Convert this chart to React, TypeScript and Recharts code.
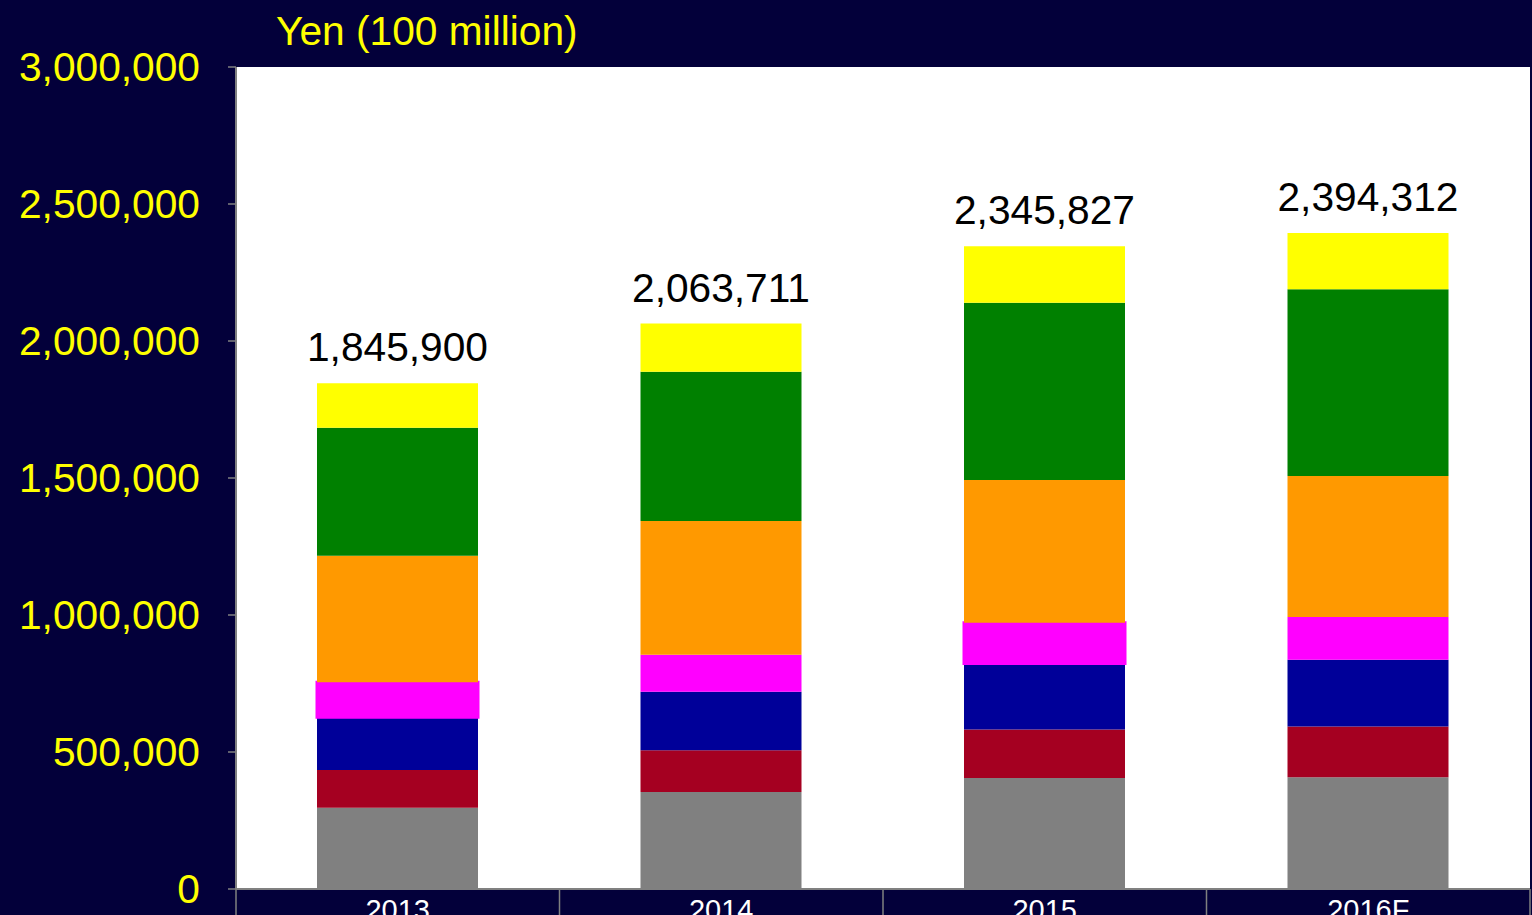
import React from 'react';
import { BarChart, Bar, XAxis, YAxis, CartesianGrid, LabelList, Cell } from 'recharts';

const categories = ['2013', '2014', '2015', '2016F'];
const totals = [1845900, 2063711, 2345827, 2394312];
const seriesGray = [296700, 354000, 405100, 407700];
const seriesRed = [137600, 152600, 176600, 185800];
const seriesBlue = [192300, 213100, 241200, 243400];
const seriesMagenta = [127700, 135000, 148900, 155800];
const seriesOrange = [462000, 488700, 520800, 514600];
const seriesGreen = [467200, 544200, 646700, 681800];
const seriesYellow = [162400, 176100, 206500, 205200];
const yTicks = [0, 500000, 1000000, 1500000, 2000000, 2500000, 3000000];
const unitLabel = 'Yen (100 million)';

const data = categories.map((c, i) => ({
  year: c,
  total: totals[i],
  gray: seriesGray[i],
  red: seriesRed[i],
  blue: seriesBlue[i],
  magenta: seriesMagenta[i],
  orange: seriesOrange[i],
  green: seriesGreen[i],
  yellow: seriesYellow[i],
}));

const W = 1532;
const H = 915;
const PLOT_LEFT = 236;
const PLOT_RIGHT = 1530;
const PLOT_BOTTOM = 889;
const BAND = (PLOT_RIGHT - PLOT_LEFT) / categories.length;
const FONT = '"Liberation Sans", Arial, sans-serif';
const BG = '#03003a';
const BIG = 40.7;

const fmt = (v: number) => Number(v).toLocaleString('en-US');

function XTick(props: any) {
  const { x, y, payload, index } = props;
  const left = x - BAND / 2;
  const isLast = index === categories.length - 1 || payload.value === categories[categories.length - 1];
  return (
    <g>
      <line x1={left} x2={left} y1={PLOT_BOTTOM} y2={H} stroke="#808080" strokeWidth={1.5} />
      {isLast && (
        <line x1={x + BAND / 2} x2={x + BAND / 2} y1={PLOT_BOTTOM} y2={H} stroke="#808080" strokeWidth={1.5} />
      )}
      <text x={x} y={y} dy="0.71em" textAnchor="middle" fill="#ffffff" fontSize={29} fontFamily={FONT}>
        {payload.value}
      </text>
    </g>
  );
}

const magentaWide = [true, false, true, false];

export default function App() {
  return (
    <div style={{ position: 'absolute', left: 0, top: 0, width: W, height: H, background: BG, overflow: 'hidden' }}>
      <div
        style={{
          position: 'absolute',
          left: 276,
          top: 11,
          fontSize: BIG,
          lineHeight: '40px',
          color: '#ffff00',
          fontFamily: FONT,
          whiteSpace: 'nowrap',
          zIndex: 2,
        }}
      >
        {unitLabel}
      </div>
      <BarChart
        width={W}
        height={H}
        data={data}
        margin={{ top: 67, right: W - PLOT_RIGHT, bottom: 0, left: 0 }}
        barSize={161}
      >
        <CartesianGrid horizontal={false} vertical={false} fill="#ffffff" />
        <XAxis
          dataKey="year"
          height={H - PLOT_BOTTOM}
          tickSize={0}
          tickMargin={10}
          tickLine={false}
          axisLine={{ stroke: '#808080', strokeWidth: 2 }}
          tick={<XTick />}
          interval={0}
        />
        <YAxis
          width={PLOT_LEFT}
          domain={[0, 3000000]}
          ticks={yTicks}
          tickFormatter={fmt}
          tickSize={8}
          tickMargin={28}
          tickLine={{ stroke: '#808080', strokeWidth: 1.5 }}
          axisLine={{ stroke: '#808080', strokeWidth: 2 }}
          tick={{ fill: '#ffff00', fontSize: BIG, fontFamily: FONT }}
          interval={0}
        />
        <Bar dataKey="gray" stackId="a" fill="#808080" isAnimationActive={false} />
        <Bar dataKey="red" stackId="a" fill="#a50021" isAnimationActive={false} />
        <Bar dataKey="blue" stackId="a" fill="#000099" isAnimationActive={false} />
        <Bar dataKey="magenta" stackId="a" fill="#ff00ff" isAnimationActive={false}>
          {data.map((d, i) => (
            <Cell key={d.year} stroke={magentaWide[i] ? '#ff00ff' : 'none'} strokeWidth={magentaWide[i] ? 3 : 0} />
          ))}
        </Bar>
        <Bar dataKey="orange" stackId="a" fill="#ff9900" isAnimationActive={false} />
        <Bar dataKey="green" stackId="a" fill="#008000" isAnimationActive={false} />
        <Bar dataKey="yellow" stackId="a" fill="#ffff00" isAnimationActive={false}>
          <LabelList
            dataKey="total"
            position="top"
            offset={22}
            formatter={fmt}
            fill="#000000"
            fontSize={BIG}
            fontFamily={FONT}
          />
        </Bar>
      </BarChart>
    </div>
  );
}
